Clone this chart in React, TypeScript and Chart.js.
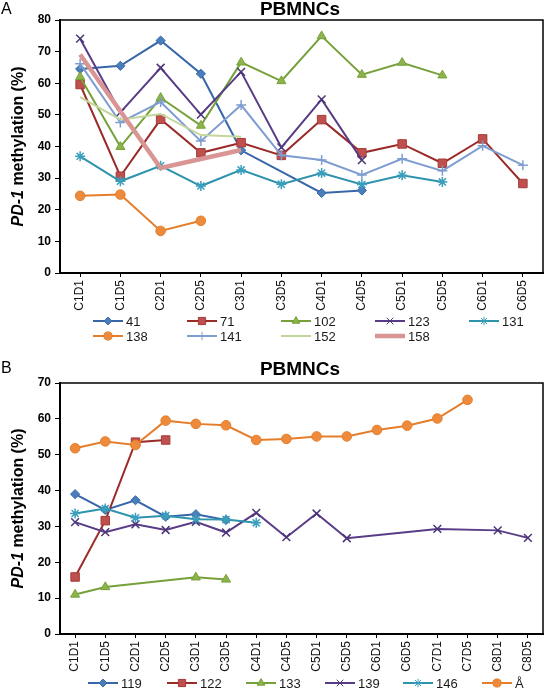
import React, { useEffect, useRef } from 'react';
import { Chart, registerables } from 'chart.js';
import { drawPoint } from 'chart.js/helpers';

Chart.register(...registerables);

const FONT = '"Liberation Sans", Arial, Helvetica, sans-serif';

// ---------- Panel A data ----------
const catsA = ['C1D1', 'C1D5', 'C2D1', 'C2D5', 'C3D1', 'C3D5', 'C4D1', 'C4D5', 'C5D1', 'C5D5', 'C6D1', 'C6D5'];
const ticksA = [0, 10, 20, 30, 40, 50, 60, 70, 80];
const labelsA = ['41', '71', '102', '123', '131', '138', '141', '152', '158'];
const s41 = [64.5, 65.5, 73.5, 63.0, 38.8, null, 25.3, 26.1, null, null, null, null];
const s71 = [59.6, 30.6, 48.6, 38.0, 41.2, 37.2, 48.5, 38.0, 40.8, 34.7, 42.4, 28.3];
const s102 = [62.0, 39.9, 55.4, 46.6, 66.6, 60.7, 74.9, 62.7, 66.5, 62.5, null, null];
const s123 = [74.1, 50.8, 64.9, 50.1, 63.6, 39.7, 54.9, 35.7, null, null, null, null];
const s131 = [36.9, 29.0, 33.9, 27.5, 32.6, 28.1, 31.6, 28.0, 30.9, 28.8, null, null];
const s138 = [24.4, 24.8, 13.3, 16.5, null, null, null, null, null, null, null, null];
const s141 = [66.2, 47.6, 54.1, 41.7, 53.1, 37.2, 35.7, 31.0, 36.1, 32.3, 40.2, 34.1];
const s152 = [55.6, 48.5, 50.3, 43.6, 43.1, null, null, null, null, null, null, null];
const s158 = [69.1, null, 33.2, null, 38.9, null, null, null, null, null, null, null];

// ---------- Panel B data ----------
const catsB = ['C1D1', 'C1D5', 'C2D1', 'C2D5', 'C3D1', 'C3D5', 'C4D1', 'C4D5', 'C5D1', 'C5D5', 'C6D1', 'C6D5', 'C7D1', 'C7D5', 'C8D1', 'C8D5'];
const ticksB = [0, 10, 20, 30, 40, 50, 60, 70];
const labelsB = ['119', '122', '133', '139', '146', 'Å'];
const s119 = [39.0, 34.6, 37.3, 32.7, 33.4, 31.8, null, null, null, null, null, null, null, null, null, null];
const s122 = [15.9, 31.6, 53.5, 54.1, null, null, null, null, null, null, null, null, null, null, null, null];
const s133 = [11.0, 13.1, null, null, 15.8, 15.2, null, null, null, null, null, null, null, null, null, null];
const s139 = [31.2, 28.4, 30.6, 29.0, 31.3, 28.3, 33.8, 27.0, 33.6, 26.7, null, null, 29.3, null, 28.9, 26.8];
const s146 = [33.6, 35.0, 32.4, 33.0, 32.0, 31.9, 31.0, null, null, null, null, null, null, null, null, null];
const sA = [51.8, 53.7, 52.7, 59.5, 58.6, 58.2, 54.1, 54.4, 55.1, 55.1, 56.9, 58.1, 60.1, 65.3, null, null];

// ---------- styles ----------
type Sty = { line: string; fill: string; edge: string; style: any; r: number; w: number };
const BLUE: Sty = { line: '#3767A8', fill: '#4A7EBB', edge: '#3767A8', style: 'rectRot', r: 4.6, w: 2 };
const RED: Sty = { line: '#9B2B29', fill: '#C0504D', edge: '#A33C39', style: 'rect', r: 6, w: 2 };
const GREEN: Sty = { line: '#76A13A', fill: '#8DB34B', edge: '#76A13A', style: 'triangle', r: 5.2, w: 2 };
const PURPLE: Sty = { line: '#583C86', fill: '#583C86', edge: '#4B3578', style: 'crossRot', r: 5.5, w: 2 };
const TEAL: Sty = { line: '#2E93AD', fill: '#3FA3C0', edge: '#3A9FBC', style: 'star', r: 5, w: 2 };
const ORANGE: Sty = { line: '#E57E2B', fill: '#EE8A3C', edge: '#E57E2B', style: 'circle', r: 4.8, w: 2 };
const LBLUE: Sty = { line: '#7E9DD0', fill: '#7E9DD0', edge: '#7E9DD0', style: 'cross', r: 5, w: 2 };
const LGREEN: Sty = { line: '#C3D69B', fill: '#C3D69B', edge: '#C3D69B', style: false, r: 0, w: 2 };
const PINK: Sty = { line: '#D99594', fill: '#D99594', edge: '#D99594', style: false, r: 0, w: 4.5 };

const stylesA = [BLUE, RED, GREEN, PURPLE, TEAL, ORANGE, LBLUE, LGREEN, PINK];
const stylesB = [BLUE, RED, GREEN, PURPLE, TEAL, ORANGE];

function makeDatasets(labels: string[], series: (number | null)[][], styles: Sty[]) {
  return series.map((data, i) => {
    const s = styles[i];
    return {
      label: labels[i],
      data,
      borderColor: s.line,
      borderWidth: s.w,
      backgroundColor: s.fill,
      pointBackgroundColor: s.fill,
      pointBorderColor: s.edge,
      pointBorderWidth: s.style === 'crossRot' || s.style === 'star' || s.style === 'cross' ? 1.5 : 1,
      pointStyle: s.style,
      pointRadius: s.r,
      pointHoverRadius: s.r,
      spanGaps: true,
      tension: 0,
      fill: false,
      order: -i,
      _sty: s,
    };
  });
}

const decorPlugin = {
  id: 'decor',
  afterDraw(chart: any, _args: any, opts: any) {
    const ctx = chart.ctx;
    const a = chart.chartArea;
    ctx.save();
    // top & right frame
    ctx.strokeStyle = '#000';
    ctx.lineWidth = 1.5;
    ctx.beginPath();
    ctx.moveTo(a.left, a.top);
    ctx.lineTo(a.right, a.top);
    ctx.lineTo(a.right, a.bottom);
    ctx.stroke();

    // title
    ctx.fillStyle = '#000';
    ctx.textAlign = 'center';
    ctx.textBaseline = 'middle';
    ctx.font = `bold 19px ${FONT}`;
    ctx.fillText(opts.title, opts.titleX, opts.titleY);
    // panel letter
    ctx.textAlign = 'left';
    ctx.font = `16px ${FONT}`;
    ctx.fillText(opts.letter, 1, opts.letterY);

    // y-axis title with italic gene name
    const cy = (a.top + a.bottom) / 2;
    ctx.save();
    ctx.translate(19, cy);
    ctx.rotate(-Math.PI / 2);
    const p1 = 'PD-1';
    const p2 = ' methylation (%)';
    const fs = 16;
    ctx.font = `italic bold ${fs}px ${FONT}`;
    const w1 = ctx.measureText(p1).width;
    ctx.font = `bold ${fs}px ${FONT}`;
    const w2 = ctx.measureText(p2).width;
    const x0 = -(w1 + w2) / 2;
    ctx.textAlign = 'left';
    ctx.textBaseline = 'middle';
    ctx.font = `italic bold ${fs}px ${FONT}`;
    ctx.fillText(p1, x0, 0);
    ctx.font = `bold ${fs}px ${FONT}`;
    ctx.fillText(p2, x0 + w1, 0);
    ctx.restore();

    // legend
    const cols: number[] = opts.cols;
    const rows: number[] = opts.rows;
    const len = 30;
    chart.data.datasets.forEach((ds: any, i: number) => {
      const col = i % cols.length;
      const row = Math.floor(i / cols.length);
      const x = cols[col];
      const y = rows[row];
      const s: Sty = ds._sty;
      ctx.strokeStyle = s.line;
      ctx.lineWidth = s.w;
      ctx.beginPath();
      ctx.moveTo(x, y);
      ctx.lineTo(x + len, y);
      ctx.stroke();
      if (s.style) {
        ctx.fillStyle = s.fill;
        ctx.strokeStyle = s.edge;
        ctx.lineWidth = 1;
        drawPoint(ctx, { pointStyle: s.style, radius: s.r * 0.85, rotation: 0, borderWidth: 1 }, x + len / 2, y);
      }
      ctx.fillStyle = '#1a1a1a';
      ctx.font = `13px ${FONT}`;
      ctx.textAlign = 'left';
      ctx.textBaseline = 'middle';
      ctx.fillText(ds.label, x + len + 3, y + 1);
    });
    ctx.restore();
  },
};

function makeConfig(p: {
  cats: string[];
  datasets: any[];
  ticks: number[];
  top: number;
  xHeight: number;
  decor: any;
}) {
  const yMax = p.ticks[p.ticks.length - 1];
  return {
    type: 'line' as const,
    data: { labels: p.cats, datasets: p.datasets },
    plugins: [decorPlugin],
    options: {
      animation: false,
      responsive: false,
      maintainAspectRatio: false,
      events: [],
      layout: { padding: { top: p.top, right: 2, left: 0, bottom: 0 } },
      plugins: {
        legend: { display: false },
        title: { display: false },
        tooltip: { enabled: false },
        decor: p.decor,
      },
      scales: {
        x: {
          type: 'category',
          offset: true,
          afterFit: (s: any) => {
            s.height = p.xHeight;
          },
          grid: {
            display: true,
            drawOnChartArea: false,
            drawTicks: true,
            tickLength: 4,
            color: '#000',
            offset: false,
            lineWidth: 1,
          },
          border: { display: true, color: '#000', width: 2 },
          ticks: {
            autoSkip: false,
            maxRotation: 90,
            minRotation: 90,
            padding: 3,
            color: '#111',
            font: { family: FONT, size: 12 },
          },
        },
        y: {
          type: 'linear',
          min: 0,
          max: yMax,
          afterFit: (s: any) => {
            s.width = 60;
          },
          afterBuildTicks: (s: any) => {
            s.ticks = p.ticks.map((v) => ({ value: v }));
          },
          grid: {
            display: true,
            drawOnChartArea: false,
            drawTicks: true,
            tickLength: 5,
            color: '#000',
            lineWidth: 1,
          },
          border: { display: true, color: '#000', width: 2 },
          ticks: {
            padding: 4,
            color: '#000',
            font: { family: FONT, size: 12, weight: 'bold' },
          },
        },
      },
    },
  };
}

function ChartCanvas({ config, width, height }: { config: any; width: number; height: number }) {
  const ref = useRef<HTMLCanvasElement | null>(null);
  useEffect(() => {
    if (!ref.current) return;
    const c = new Chart(ref.current, config);
    return () => c.destroy();
  }, [config]);
  return <canvas ref={ref} width={width} height={height} style={{ display: 'block', width, height }} />;
}

const configA = makeConfig({
  cats: catsA,
  datasets: makeDatasets(labelsA, [s41, s71, s102, s123, s131, s138, s141, s152, s158], stylesA),
  ticks: ticksA,
  top: 20,
  xHeight: 72,
  decor: {
    title: 'PBMNCs',
    titleX: 300,
    titleY: 10,
    letter: 'A',
    letterY: 10,
    cols: [93, 187, 281, 375, 469],
    rows: [321, 336],
  },
});

const configB = makeConfig({
  cats: catsB,
  datasets: makeDatasets(labelsB, [s119, s122, s133, s139, s146, sA], stylesB),
  ticks: ticksB,
  top: 38,
  xHeight: 55,
  decor: {
    title: 'PBMNCs',
    titleX: 300,
    titleY: 25,
    letter: 'B',
    letterY: 24,
    cols: [88, 167, 246, 325, 403, 482],
    rows: [338],
  },
});

export default function App() {
  return (
    <div style={{ position: 'absolute', left: 0, top: 0, width: 550, height: 689, background: '#fff', overflow: 'hidden' }}>
      <ChartCanvas config={configA} width={550} height={345} />
      <ChartCanvas config={configB} width={550} height={344} />
    </div>
  );
}
